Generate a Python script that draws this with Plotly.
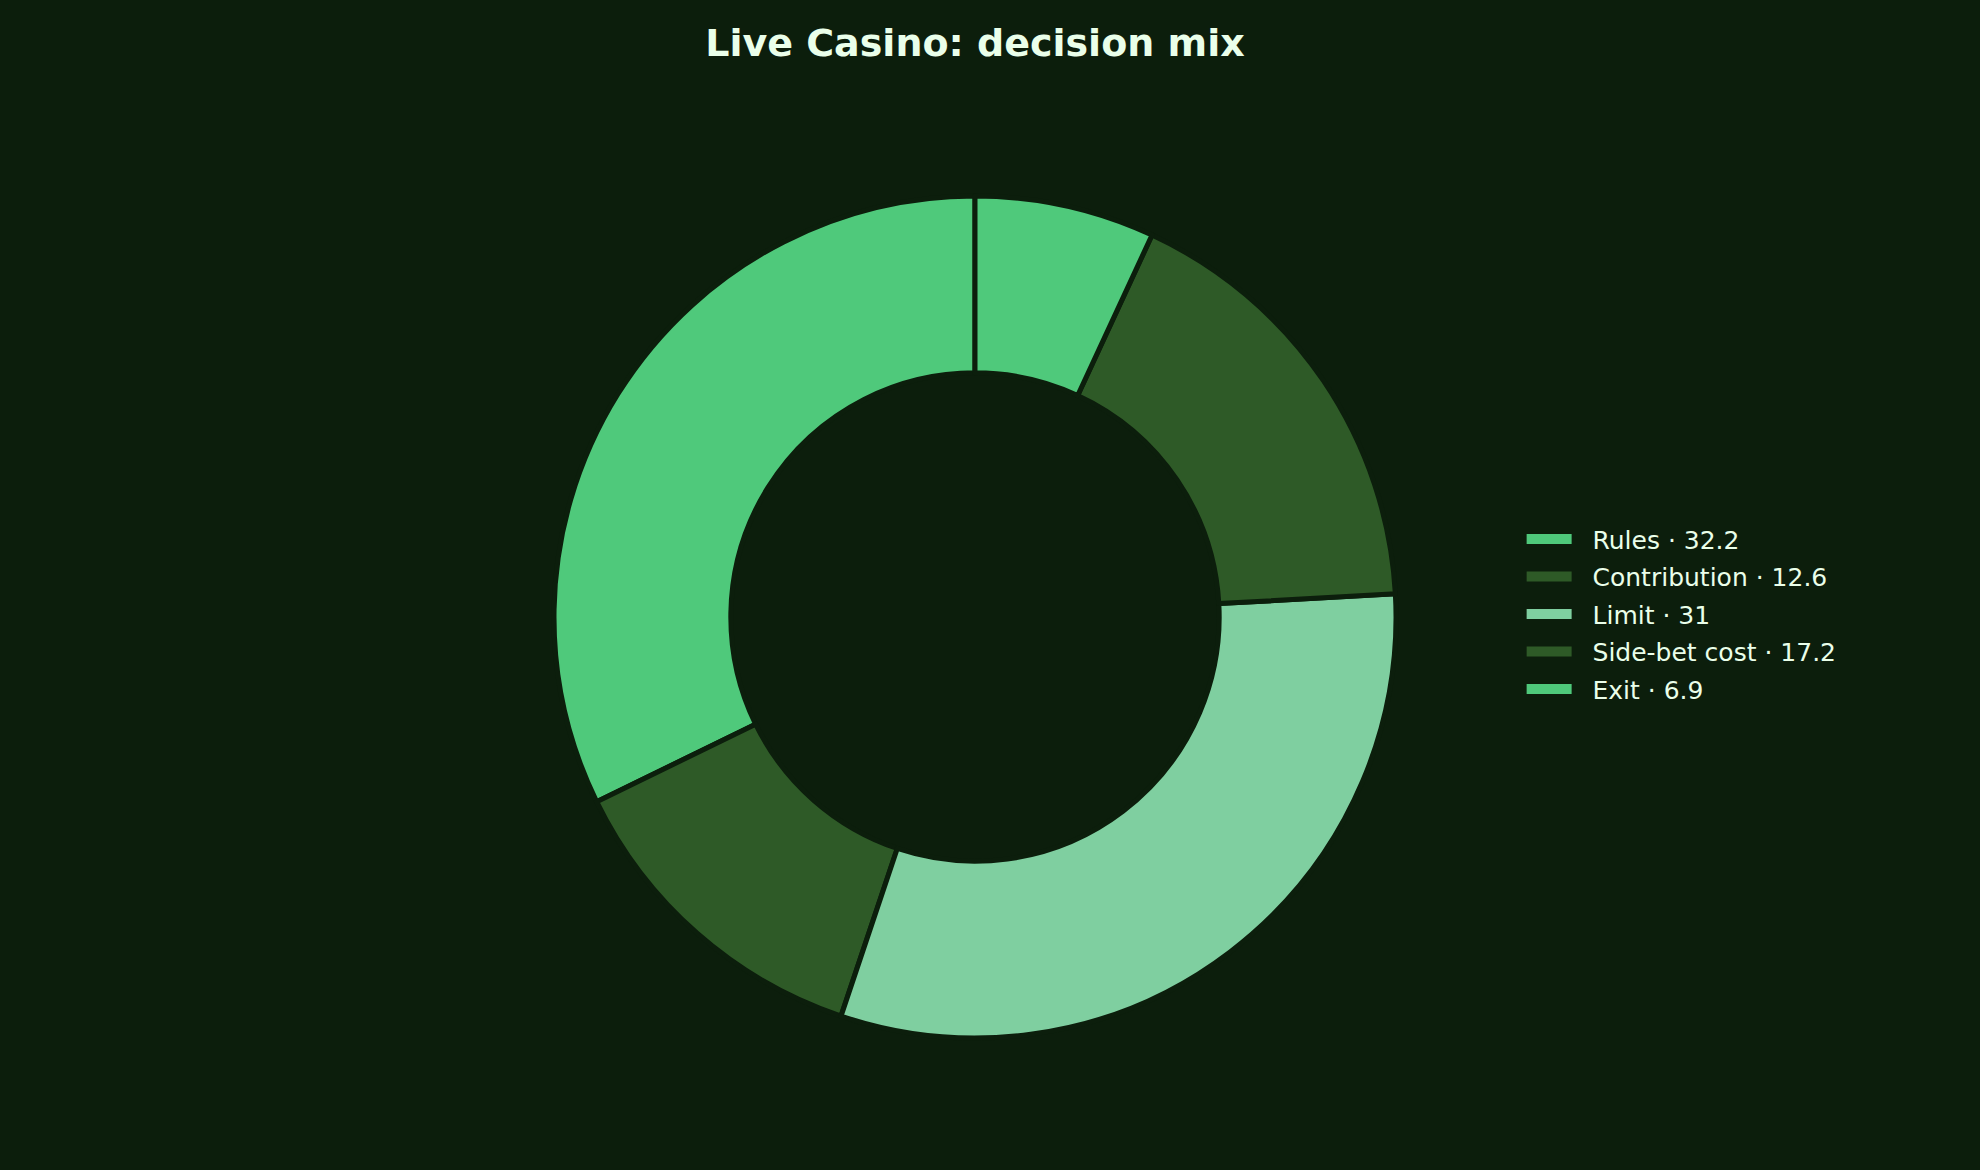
import plotly.graph_objects as go

labels = ["Rules", "Contribution", "Limit", "Side-bet cost", "Exit"]
values = [32.2, 12.6, 31, 17.2, 6.9]
colors = ["#4fc97b", "#2e5a27", "#7fcfa0", "#2e5a27", "#4fc97b"]

BG = "#0c1e0c"
TXT = "#eaffea"

cx, cy, R = 975, 617, 421  # pixel layout of the donut

# plotly's counterclockwise pies put the first slice to the right of 12 o'clock;
# rotate so the first slice starts at 12 o'clock and runs counterclockwise.
rot = -360 * values[0] / sum(values)

fig = go.Figure()
fig.add_trace(go.Pie(
    labels=labels, values=values, sort=False, direction="counterclockwise",
    rotation=rot,
    hole=0.58, textinfo="none", showlegend=False,
    marker=dict(colors=colors, line=dict(color=BG, width=5)),
    domain=dict(x=[(cx - R)/1980, (cx + R)/1980],
                y=[(1170 - cy - R)/1170, (1170 - cy + R)/1170]),
))
for i, (lab, val, col) in enumerate(zip(labels, values, colors)):
    fig.add_trace(go.Scatter(
        x=[None], y=[None], mode="lines", name=f"\u00a0\u00a0{lab} · {val:g}",
        legendgroup=f"g{i}",
        line=dict(color=col, width=12), showlegend=True, hoverinfo="skip",
    ))

fig.update_layout(
    width=1980, height=1170,
    paper_bgcolor=BG, plot_bgcolor=BG,
    margin=dict(l=0, r=0, t=0, b=0),
    font=dict(family="DejaVu Sans", color=TXT),
    title=dict(text="<b>Live Casino: decision mix</b>", x=0.4924, xanchor="center",
               y=1 - 43/1170, yanchor="middle", yref="container",
               font=dict(size=38, color=TXT, family="DejaVu Sans")),
    legend=dict(x=0.7685, xanchor="left", y=0.475, yanchor="middle",
                font=dict(size=25, color=TXT), bgcolor="rgba(0,0,0,0)",
                itemwidth=45, tracegroupgap=2),
    xaxis=dict(visible=False), yaxis=dict(visible=False),
)
fig.write_html("out.html", config={"displayModeBar": False},
               post_script="document.body.style.margin='0px';"
                           "document.body.style.background='#0c1e0c';")
